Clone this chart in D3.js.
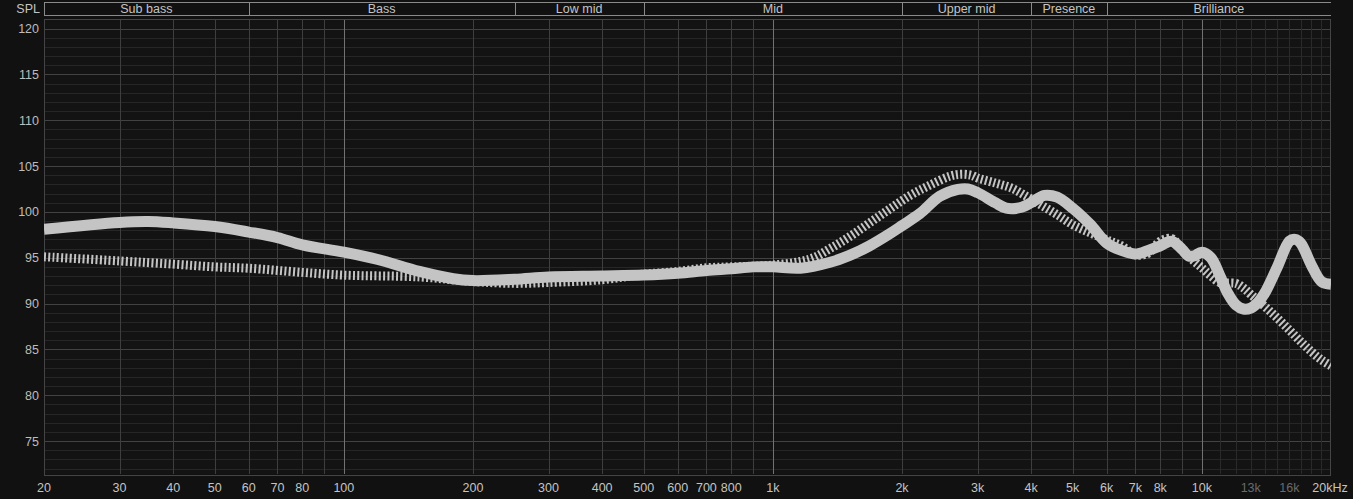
<!DOCTYPE html>
<html>
<head>
<meta charset="utf-8">
<script src="https://cdn.jsdelivr.net/npm/d3@7"></script>
<style>
  html, body { margin: 0; padding: 0; background: #111111; }
  svg { display: block; font-family: "Liberation Sans", Arial, sans-serif; }
</style>
</head>
<body>
<svg id="chart" width="1353" height="499"></svg>
<script>
// frequency bands shown in the header strip
const bandNames = ["Sub bass", "Bass", "Low mid", "Mid", "Upper mid", "Presence", "Brilliance"];
const bandEdges = [20, 60, 250, 500, 2000, 4000, 6000, 20000];

// x tick labels
const freqTicks = [20, 30, 40, 50, 60, 70, 80, 100, 200, 300, 400, 500, 600, 700, 800, 1000, 2000, 3000, 4000, 5000, 6000, 7000, 8000, 10000, 13000, 16000, 20000];
const freqLabels = ["20", "30", "40", "50", "60", "70", "80", "100", "200", "300", "400", "500", "600", "700", "800", "1k", "2k", "3k", "4k", "5k", "6k", "7k", "8k", "10k", "13k", "16k", "20kHz"];
const dimLabels = [13000, 16000];
const splTicks = [75, 80, 85, 90, 95, 100, 105, 110, 115, 120];

// measured response (solid)
const measFreq = [20, 30, 35, 40, 50, 60, 70, 80, 100, 120, 150, 180, 200, 250, 300, 400, 500, 600, 700, 800, 900, 1000, 1160, 1360, 1510, 1680, 1870, 2000, 2200, 2450, 2700, 2850, 3000, 3300, 3500, 3800, 4000, 4300, 4600, 5000, 5500, 6000, 6500, 7000, 7500, 8000, 8500, 9000, 9300, 9600, 10000, 10500, 11000, 11500, 12000, 12500, 13000, 13500, 14000, 15000, 16000, 16500, 17000, 18000, 19000, 20000];
const measSpl = [98.1, 98.85, 98.95, 98.8, 98.4, 97.8, 97.2, 96.4, 95.6, 94.8, 93.5, 92.7, 92.5, 92.65, 92.9, 93.0, 93.1, 93.3, 93.6, 93.8, 94.0, 94.0, 93.85, 94.5, 95.25, 96.3, 97.6, 98.5, 99.8, 101.7, 102.45, 102.5, 102.1, 101.0, 100.4, 100.5, 101.0, 101.8, 101.6, 100.4, 98.6, 96.6, 95.8, 95.4, 95.8, 96.3, 96.8, 95.9, 95.2, 95.2, 95.6, 95.0, 93.1, 91.1, 89.85, 89.4, 89.5, 90.1, 91.1, 94.0, 96.8, 97.0, 96.6, 94.2, 92.4, 92.1];

// target response (dashed)
const targetFreq = [20, 30, 40, 50, 60, 80, 100, 150, 200, 250, 300, 400, 500, 600, 700, 800, 1000, 1220, 1360, 1510, 1680, 1870, 2090, 2320, 2590, 2750, 2900, 3000, 3300, 3600, 3900, 4200, 4600, 5000, 5500, 6000, 6500, 7000, 7500, 8000, 8500, 9000, 9500, 10000, 10500, 11000, 12000, 12500, 13000, 14000, 15000, 16000, 17000, 18000, 19000, 20000];
const targetSpl = [95.1, 94.65, 94.3, 94.0, 93.85, 93.4, 93.1, 92.9, 92.4, 92.2, 92.3, 92.6, 93.2, 93.5, 93.9, 94.0, 94.2, 94.85, 96.0, 97.3, 98.8, 100.3, 101.8, 102.9, 103.9, 104.1, 104.0, 103.7, 103.15, 102.6, 101.7, 100.8, 99.7, 98.6, 97.7, 96.95, 96.3, 95.3, 95.5, 96.8, 97.1, 95.9, 94.8, 93.9, 93.0, 92.3, 92.2, 91.7, 91.0, 89.7, 88.4, 87.1, 85.85, 84.75, 83.85, 83.2];

const width = 1353, height = 499;
const margin = {left: 44, right: 22, top: 18.5, bottom: 25};
const headerTop = 2.5, headerBottom = 15.5;

const svg = d3.select("#chart");

const x = d3.scaleLog().domain([20, 20000]).range([margin.left, width - margin.right]);
const y = d3.scaleLinear().domain([71.4, 121.1]).range([height - margin.bottom, margin.top]);

const plotLeft = x.range()[0], plotRight = x.range()[1];
const plotTop = y.range()[1], plotBottom = y.range()[0];

svg.append("rect").attr("x", plotLeft).attr("y", plotTop)
    .attr("width", plotRight - plotLeft).attr("height", plotBottom - plotTop)
    .attr("fill", "#131313");

// horizontal grid: 1 dB minor, 5 dB major
let grid = svg.append("g").attr("shape-rendering", "crispEdges");
for (let db = 72; db <= 121; db++) {
    let major = db % 5 === 0;
    grid.append("line")
        .attr("x1", plotLeft).attr("x2", plotRight)
        .attr("y1", Math.round(y(db)) + 0.5).attr("y2", Math.round(y(db)) + 0.5)
        .attr("stroke", major ? "#424242" : "#262626");
}

// vertical grid
let vLines = [];
[10, 100, 1000].forEach(dec => {
    for (let m = 1; m <= 9; m++) {
        let f = dec * m;
        if (f >= 20 && f <= 10000) vLines.push({f: f, kind: (m === 1 && f >= 100) ? "decade" : "major"});
    }
});
for (let f = 11000; f < 20000; f += 1000) vLines.push({f: f, kind: "fine"});
vLines.push({f: 10000, kind: "decade"});

const vColor = {major: "#3e3e3e", decade: "#727272", fine: "#2a2a2a"};
vLines.forEach(d => {
    grid.append("line")
        .attr("x1", Math.round(x(d.f)) + 0.5).attr("x2", Math.round(x(d.f)) + 0.5)
        .attr("y1", plotTop).attr("y2", plotBottom)
        .attr("stroke", vColor[d.kind]);
});

// plot border
svg.append("rect").attr("x", plotLeft + 0.5).attr("y", Math.round(plotTop) + 0.5)
    .attr("width", plotRight - plotLeft - 1).attr("height", Math.round(plotBottom - plotTop))
    .attr("fill", "none").attr("stroke", "#444").attr("shape-rendering", "crispEdges");

// band header
let header = svg.append("g").attr("shape-rendering", "crispEdges");
header.append("line").attr("x1", plotLeft).attr("x2", plotRight).attr("y1", headerTop).attr("y2", headerTop).attr("stroke", "#8a8a8a");
header.append("line").attr("x1", plotLeft).attr("x2", plotRight).attr("y1", headerBottom).attr("y2", headerBottom).attr("stroke", "#8a8a8a");
bandEdges.slice(0, -1).forEach(f => {
    header.append("line").attr("x1", Math.round(x(f)) + 0.5).attr("x2", Math.round(x(f)) + 0.5)
        .attr("y1", headerTop).attr("y2", headerBottom).attr("stroke", "#8a8a8a");
});
bandNames.forEach((name, i) => {
    svg.append("text").text(name)
        .attr("x", (x(bandEdges[i]) + x(bandEdges[i + 1])) / 2).attr("y", 13)
        .attr("text-anchor", "middle").attr("font-size", "12.5px").attr("fill", "#c4c4c4");
});

svg.append("text").text("SPL").attr("x", 40).attr("y", 13)
    .attr("text-anchor", "end").attr("font-size", "12.5px").attr("fill", "#c4c4c4");

// y axis labels
splTicks.forEach(v => {
    svg.append("text").text(v).attr("x", 39).attr("y", y(v) + 4.5)
        .attr("text-anchor", "end").attr("font-size", "12.5px").attr("fill", "#bdbdbd");
});

// x axis labels
freqTicks.forEach((f, i) => {
    svg.append("text").text(freqLabels[i]).attr("x", x(f) + (f === 20000 ? -1 : 0)).attr("y", 492)
        .attr("text-anchor", "middle").attr("font-size", "12.5px")
        .attr("fill", dimLabels.includes(f) ? "#6a6a6a" : "#c4c4c4");
});

// curves
svg.append("clipPath").attr("id", "plotClip").append("rect")
    .attr("x", plotLeft).attr("y", plotTop).attr("width", plotRight - plotLeft).attr("height", plotBottom - plotTop);

const line = d3.line().x(d => x(d[0])).y(d => y(d[1])).curve(d3.curveCatmullRom.alpha(0.5));

svg.append("path")
    .datum(targetFreq.map((f, i) => [f, targetSpl[i]]))
    .attr("d", line).attr("clip-path", "url(#plotClip)")
    .attr("fill", "none").attr("stroke", "#c4c4c4").attr("stroke-width", 9)
    .attr("stroke-dasharray", "2,2.3");

svg.append("path")
    .datum(measFreq.map((f, i) => [f, measSpl[i]]))
    .attr("d", line).attr("clip-path", "url(#plotClip)")
    .attr("fill", "none").attr("stroke", "#c4c4c4").attr("stroke-width", 11)
    .attr("stroke-linejoin", "round");
</script>
</body>
</html>
